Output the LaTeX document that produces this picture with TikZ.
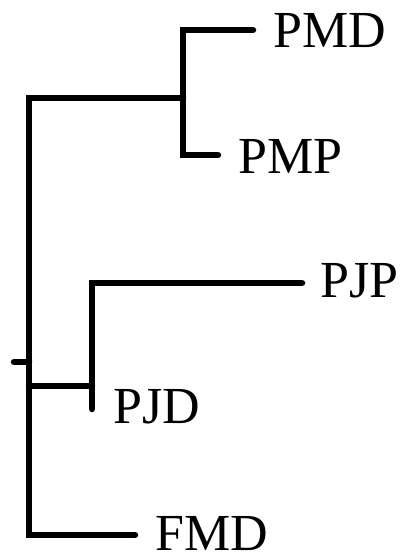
\documentclass[tikz,border=0pt]{standalone}
\usepackage{fontspec}
\setmainfont{Liberation Serif}
\begin{document}
\begin{tikzpicture}[x=1pt,y=-1pt,
  branch/.style={line width=6.5pt,line cap=round,line join=miter},
  taxon/.style={anchor=base west,inner sep=0pt,font=\fontsize{52}{52}\selectfont}]
\useasboundingbox (0,0) rectangle (408,560);
% internal nodes and tips
\coordinate (root) at (14,362);
\coordinate (r) at (29,362);
\coordinate (a) at (29,98);
\coordinate (b) at (183,98);
\coordinate (c) at (29,386);
\coordinate (d) at (92,386);
\coordinate (tPMD) at (253,30);
\coordinate (tPMP) at (218,155);
\coordinate (tPJP) at (302,283);
\coordinate (tPJD) at (92,409);
\coordinate (tFMD) at (135,535);
% labels
\node[taxon] (PMD) at (273,47) {PMD};
\node[taxon] (PMP) at (238,173) {PMP};
\node[taxon] (PJP) at (320,297) {PJP};
\node[taxon] (PJD) at (113,423) {PJD};
\node[taxon] (FMD) at (155,550) {FMD};
% branches
\draw[branch] (root) -- (r);
\draw[branch] (b) -- (a) |- (tFMD);
\draw[branch] (tPMD) -| (b) |- (tPMP);
\draw[branch] (c) -- (d);
\draw[branch] (tPJP) -| (tPJD);
\end{tikzpicture}
\end{document}
